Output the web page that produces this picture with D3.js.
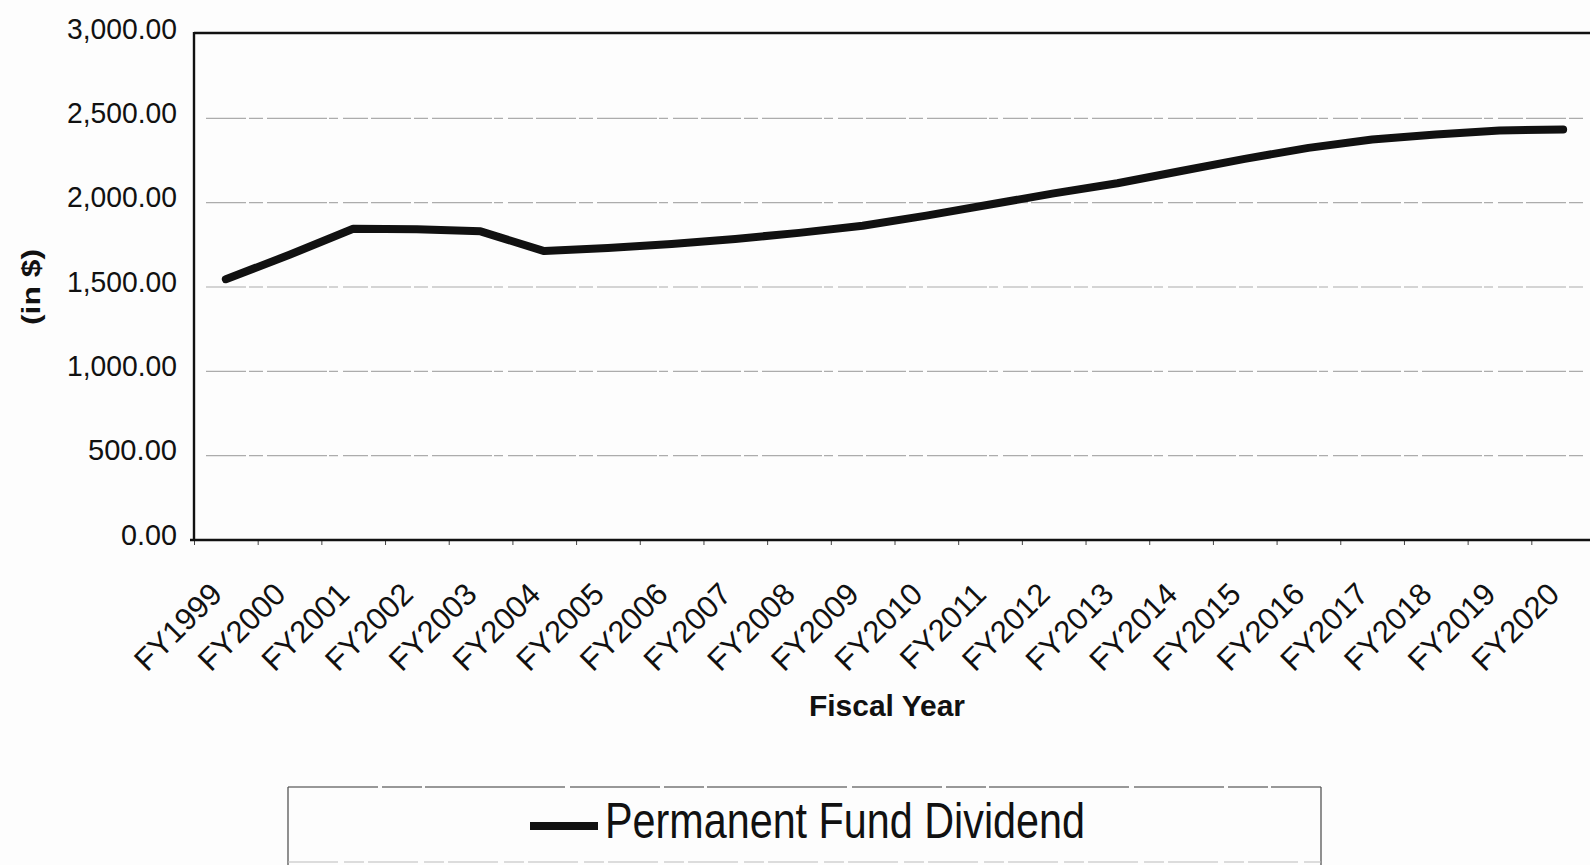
<!DOCTYPE html>
<html>
<head>
<meta charset="utf-8">
<script src="https://cdn.jsdelivr.net/npm/d3@7/dist/d3.min.js"></script>
<style>
  html, body { margin: 0; padding: 0; background: #fdfdfd; }
  svg { display: block; }
  text { font-family: "Liberation Sans", Arial, sans-serif; fill: #111; }
</style>
</head>
<body>
<svg id="chart" width="1590" height="865"></svg>
<script>
// Fiscal years shown along the x axis
const fiscalYears = ["FY1999","FY2000","FY2001","FY2002","FY2003","FY2004","FY2005","FY2006",
  "FY2007","FY2008","FY2009","FY2010","FY2011","FY2012","FY2013","FY2014","FY2015","FY2016",
  "FY2017","FY2018","FY2019","FY2020"];

// Permanent Fund Dividend per fiscal year (in $)
const dividendValues = [1546, 1691, 1845, 1843, 1830, 1713, 1731, 1755, 1785, 1821, 1863, 1923,
  1989, 2055, 2115, 2188, 2260, 2325, 2374, 2404, 2428, 2434];

// Value axis ticks
const yTicks = [0, 500, 1000, 1500, 2000, 2500, 3000];

const seriesName = "Permanent Fund Dividend";
const xTitle = "Fiscal Year";
const yTitle = "(in $)";

const svg = d3.select("#chart");
const plot = { left: 194, right: 1595, top: 34, bottom: 540 };

const x = d3.scaleBand().domain(fiscalYears).range([plot.left, plot.right]);
const xEdges = d3.scaleLinear().domain([0, fiscalYears.length]).range([plot.left, plot.right]);
const y = d3.scaleLinear().domain([0, 3000]).range([plot.bottom, plot.top]);

// Horizontal gridlines
svg.append("g")
  .selectAll("line")
  .data(yTicks.filter(d => d > 0 && d < 3000))
  .join("line")
  .attr("x1", plot.left + 12)
  .attr("x2", 1584)
  .attr("y1", d => y(d))
  .attr("y2", d => y(d))
  .attr("stroke", "#acacac")
  .attr("stroke-width", 1.2)
  .attr("stroke-dasharray", "40 3 14 4 60 2 9 5 25 3");

// Y axis labels
const yAxis = svg.append("g")
  .attr("transform", `translate(${plot.left},0)`)
  .call(d3.axisLeft(y).tickValues(yTicks).tickFormat(d3.format(",.2f")).tickSize(0).tickPadding(17));
yAxis.select(".domain").remove();
yAxis.selectAll("text")
  .attr("font-size", 30)
  .attr("dy", "0.14em")
  .attr("textLength", d => d >= 1000 ? 110 : (d > 0 ? 89 : 56))
  .attr("lengthAdjust", "spacingAndGlyphs")
  .style("font-family", "'Liberation Sans', Arial, sans-serif")
  .attr("fill", "#111");

// Tick marks between categories
const xTickAxis = svg.append("g")
  .attr("transform", `translate(0,${plot.bottom})`)
  .call(d3.axisBottom(xEdges).tickValues(d3.range(0, fiscalYears.length + 1)).tickFormat("").tickSize(5));
xTickAxis.select(".domain").remove();
xTickAxis.selectAll("line").attr("stroke", "#444").attr("stroke-width", 1);

// Category labels, rotated
const xAxis = svg.append("g")
  .attr("transform", `translate(0,${plot.bottom})`)
  .call(d3.axisBottom(x).tickSize(0).tickPadding(0));
xAxis.select(".domain").remove();
xAxis.selectAll("text")
  .attr("font-size", 31)
  .attr("text-anchor", "end")
  .attr("dy", 0)
  .attr("y", 0)
  .attr("transform", "translate(-2,56) rotate(-45)")
  .style("font-family", "'Liberation Sans', Arial, sans-serif")
  .attr("fill", "#111");

// Plot frame
const frame = svg.append("g").attr("stroke", "#111").attr("stroke-width", 2.4).attr("fill", "none");
frame.append("line").attr("x1", plot.left).attr("x2", plot.right).attr("y1", plot.top - 1).attr("y2", plot.top - 1);
frame.append("line").attr("x1", plot.left).attr("x2", plot.left).attr("y1", plot.top - 2).attr("y2", plot.bottom + 1);
frame.append("line").attr("x1", plot.left - 4).attr("x2", plot.right).attr("y1", plot.bottom).attr("y2", plot.bottom);

// Dividend line
const line = d3.line()
  .x((d, i) => x(fiscalYears[i]) + x.bandwidth() / 2)
  .y(d => y(d));

svg.append("path")
  .datum(dividendValues)
  .attr("d", line)
  .attr("fill", "none")
  .attr("stroke", "#111")
  .attr("stroke-width", 8)
  .attr("stroke-linejoin", "round")
  .attr("stroke-linecap", "round");

// Axis titles
svg.append("text")
  .attr("x", 887).attr("y", 716)
  .attr("text-anchor", "middle")
  .attr("font-size", 29)
  .attr("font-weight", "bold")
  .attr("textLength", 156)
  .attr("lengthAdjust", "spacingAndGlyphs")
  .text(xTitle);

svg.append("text")
  .attr("transform", "translate(40,287) rotate(-90)")
  .attr("text-anchor", "middle")
  .attr("font-size", 25)
  .attr("font-weight", "bold")
  .attr("textLength", 76)
  .attr("lengthAdjust", "spacingAndGlyphs")
  .text(yTitle);

// Legend
const legend = svg.append("g");
legend.append("line").attr("x1", 288).attr("x2", 1321).attr("y1", 787).attr("y2", 787)
  .attr("stroke", "#777").attr("stroke-width", 1.3).attr("stroke-dasharray", "90 4 40 3 140 5");
legend.append("line").attr("x1", 288).attr("x2", 288).attr("y1", 787).attr("y2", 865)
  .attr("stroke", "#555").attr("stroke-width", 1.3);
legend.append("line").attr("x1", 1321).attr("x2", 1321).attr("y1", 787).attr("y2", 865)
  .attr("stroke", "#555").attr("stroke-width", 1.3);
legend.append("line").attr("x1", 288).attr("x2", 1321).attr("y1", 862).attr("y2", 862)
  .attr("stroke", "#bbb").attr("stroke-width", 1.2).attr("stroke-dasharray", "50 6 20 4");
legend.append("line").attr("x1", 530).attr("x2", 598).attr("y1", 826).attr("y2", 826)
  .attr("stroke", "#111").attr("stroke-width", 8);
legend.append("text")
  .attr("x", 605).attr("y", 838)
  .attr("font-size", 50)
  .attr("textLength", 480)
  .attr("lengthAdjust", "spacingAndGlyphs")
  .text(seriesName);
</script>
</body>
</html>
